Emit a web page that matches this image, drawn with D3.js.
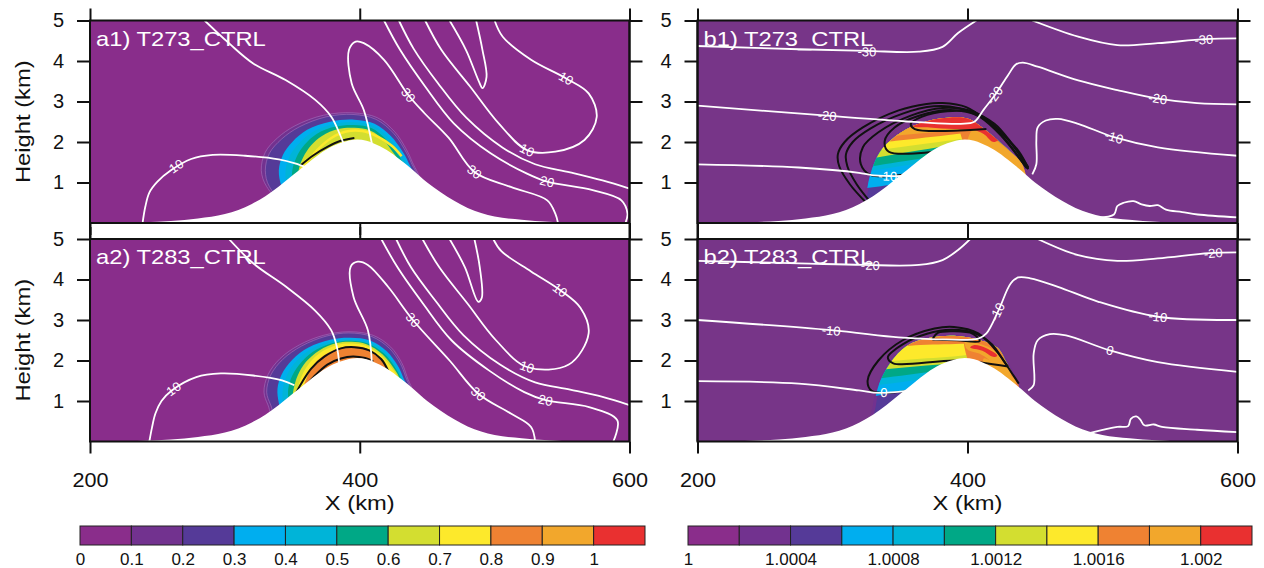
<!DOCTYPE html>
<html>
<head>
<meta charset="utf-8">
<script src="https://cdn.jsdelivr.net/npm/d3@7"></script>
<style>
body { margin: 0; background: #fff; }
svg { font-family: "Liberation Sans", Arial, Helvetica, sans-serif; }
</style>
</head>
<body>
<svg id="fig" width="1264" height="568"></svg>
<script>
// ---- data (X in km, height in km) ----
const xTicks = [200, 400, 600];
const yTicks = [1, 2, 3, 4, 5];
const titles = ["a1) T273_CTRL", "a2) T283_CTRL", "b1) T273_CTRL", "b2) T283_CTRL"];

const palette = ["#8a2d8b", "#72328f", "#553a98", "#00aeef", "#00b4d8", "#00a886",
                 "#d3de30", "#fde92b", "#ef8232", "#f2a72c", "#e93030"];
const levelsA = [0, 0.1, 0.2, 0.3, 0.4, 0.5, 0.6, 0.7, 0.8, 0.9, 1, 1.1];
const cbTicksA = [0, 0.1, 0.2, 0.3, 0.4, 0.5, 0.6, 0.7, 0.8, 0.9, 1];
const levelsB = [1, 1.0002, 1.0004, 1.0006, 1.0008, 1.001, 1.0012, 1.0014, 1.0016, 1.0018, 1.002, 1.0022];
const cbTicksB = [1, 1.0004, 1.0008, 1.0012, 1.0016, 1.002];
const cbLabelsB = ["1", "1.0004", "1.0008", "1.0012", "1.0016", "1.002"];

const mountainX = [220, 240, 260, 280, 300, 310, 320, 330, 340, 350, 360, 370, 380, 390, 398, 405, 410,
                   420, 430, 440, 450, 460, 470, 480, 490, 500, 520, 540, 560];
const mountainZ = [0, 0.02, 0.05, 0.11, 0.22, 0.32, 0.47, 0.66, 0.9, 1.17, 1.44, 1.7, 1.9, 2.02, 2.06, 2.03, 1.97,
                   1.8, 1.56, 1.29, 1.0, 0.76, 0.55, 0.37, 0.25, 0.16, 0.08, 0.03, 0];

// a panels: nested shaded rings [colour index, outline]
const shadeA1 = [
  [1, [[344,0.5],[331,0.9],[327,1.3],[330,1.75],[339,2.1],[352,2.4],[373,2.66],[395,2.72],[413,2.6],[426,2.25],[434,1.85],[439,1.5],[444,1.0],[400,0.8]]],
  [2, [[346,0.5],[333,0.9],[330,1.3],[333,1.72],[342,2.07],[355,2.37],[375,2.62],[395,2.68],[412,2.56],[425,2.22],[433,1.83],[438,1.5],[443,1.0],[400,0.8]]],
  [3, [[348,0.5],[342,0.9],[340,1.3],[343,1.68],[350,2.0],[361,2.3],[378,2.5],[396,2.55],[411,2.45],[423,2.15],[431,1.8],[436,1.5],[441,1.0],[400,0.8]]],
  [4, [[350,0.5],[346,0.9],[345,1.3],[348,1.65],[355,1.97],[365,2.25],[380,2.44],[396,2.49],[410,2.4],[421,2.12],[429,1.78],[434,1.5],[440,1.0],[400,0.8]]],
  [5, [[352,0.5],[350,0.9],[350,1.3],[353,1.62],[359,1.93],[368,2.2],[382,2.38],[396,2.42],[409,2.34],[419,2.08],[427,1.75],[432,1.5],[439,1.0],[400,0.8]]],
  [6, [[354,0.5],[354,1.0],[355,1.35],[358,1.62],[364,1.92],[372,2.15],[384,2.32],[396,2.35],[408,2.28],[418,2.04],[425,1.73],[430,1.5],[438,1.0],[400,0.8]]]
];
const yellowA1 = [[356,1.3],[361,1.5],[369,1.82],[379,2.1],[390,2.26],[402,2.27],[414,2.12],[424,1.9],[431,1.65]];
const blackA1 = [[[356,1.42],[366,1.68],[376,1.88],[386,2.03],[396,2.1]]];

const shadeA2 = [
  [1, [[338,0.5],[332,0.9],[329,1.22],[332,1.65],[341,2.05],[355,2.38],[373,2.62],[392,2.71],[410,2.62],[423,2.33],[431,1.95],[435,1.6],[440,1.0],[400,0.8]]],
  [2, [[340,0.5],[334,0.9],[331,1.22],[334,1.64],[343,2.03],[357,2.36],[375,2.6],[392,2.68],[409,2.59],[422,2.3],[430,1.93],[434,1.6],[439,1.0],[400,0.8]]],
  [3, [[344,0.5],[340,0.95],[339,1.3],[342,1.65],[350,2.02],[362,2.32],[378,2.51],[393,2.56],[408,2.49],[420,2.23],[428,1.88],[432,1.6],[438,1.0],[400,0.8]]],
  [4, [[346,0.5],[343,0.95],[343,1.3],[346,1.64],[353,1.99],[365,2.3],[380,2.48],[393,2.52],[407,2.45],[419,2.2],[427,1.86],[431,1.6],[437,1.0],[400,0.8]]],
  [5, [[348,0.5],[347,1.0],[347,1.3],[350,1.63],[357,1.97],[368,2.27],[382,2.45],[393,2.49],[406,2.42],[418,2.17],[426,1.84],[430,1.6],[436,1.0],[400,0.8]]],
  [6, [[350,0.5],[350,1.0],[351,1.3],[354,1.63],[360,1.96],[370,2.25],[383,2.43],[394,2.46],[405,2.4],[417,2.15],[425,1.82],[429,1.6],[435,1.0],[400,0.8]]],
  [7, [[352,0.5],[353,1.0],[354,1.3],[357,1.62],[363,1.95],[372,2.22],[385,2.4],[394,2.42],[404,2.37],[416,2.12],[424,1.8],[428,1.6],[434,1.0],[400,0.8]]],
  [8, [[355,0.5],[357,1.0],[358,1.3],[361,1.6],[366,1.9],[375,2.16],[387,2.33],[395,2.35],[404,2.31],[414,2.07],[421,1.78],[426,1.6],[433,1.0],[400,0.8]]]
];
const blackA2 = [
  [[352,1.15],[357,1.45],[364,1.8],[374,2.1],[386,2.3],[396,2.33],[407,2.25],[416,2.03],[421,1.75]],
  [[358,1.3],[366,1.6],[376,1.9],[386,2.05],[395,2.1],[404,2.06],[410,1.98]]
];

// b panels: shaded dome, stripes (colour above a boundary) and patches
const domeB1 = [[325,0.4],[326,0.9],[329,1.3],[335,1.75],[344,2.07],[358,2.37],[380,2.58],[400,2.58],[413,2.3],[425,1.97],[433,1.73],[441,1.42],[442,0.8],[380,0.5]];
const stripeB1 = [
  [3, [[300,0.75],[330,0.88],[370,1.08],[460,1.5]]],
  [4, [[300,1.15],[330,1.3],[370,1.5],[460,1.95]]],
  [5, [[300,1.25],[333,1.42],[378,1.66],[460,2.1]]],
  [6, [[300,1.45],[333,1.62],[378,1.87],[460,2.3]]],
  [7, [[300,1.65],[340,1.83],[385,2.03],[460,2.4]]],
  [8, [[300,1.85],[347,2.03],[392,2.2],[460,2.5]]],
  [9, [[300,2.0],[352,2.17],[400,2.32],[460,2.6]]]
];
const patchB1 = [
  [8, [[396,2.9],[460,2.9],[460,0.8],[430,0.8],[398,1.9]]],
  [9, [[404,2.3],[414,2.17],[424,1.97],[433,1.72],[442,1.45],[440,0.8],[400,1.5]]],
  [10, [[358,2.9],[358,2.42],[372,2.36],[390,2.32],[404,2.3],[412,2.2],[420,2.0],[440,2.9]]]
];
const blackB1 = [
  [[325,0.5],[313,0.95],[305,1.4],[304,1.7],[309,2.0],[322.5,2.36],[349,2.78],[369.7,2.94],[381.5,2.96],[399,2.86],[414,2.53],[428.8,2.03],[443.5,1.37]],
  [[328,0.52],[318,0.95],[311,1.4],[310,1.7],[315,2.0],[328,2.33],[352,2.7],[375,2.88],[393,2.84],[410,2.6],[425,2.15],[444,1.35]],
  [[352,1.19],[328,1.19],[321,1.45],[322.5,1.87],[334,2.24],[358,2.65],[381.5,2.84],[405,2.74],[420,2.4],[434.7,1.87],[445,1.33]],
  [[375.6,1.76],[341.7,1.76],[338.7,2.03],[346,2.36],[364,2.65],[387.5,2.79],[408,2.65],[423,2.28],[437.7,1.78],[445,1.35]],
  [[414,2.32],[361,2.32],[358,2.45],[366,2.62],[385,2.76],[405,2.72],[420,2.45],[432,2.0],[445,1.38]]
];

const domeB2 = [[330,0.5],[331,0.88],[334,1.37],[343,1.95],[355,2.36],[372,2.56],[390,2.61],[407,2.52],[422,2.32],[429,1.95],[434,1.62],[438,1.3],[420,0.8],[380,0.6]];
const stripeB2 = [
  [3, [[300,0.95],[333,1.13],[370,1.35],[460,1.8]]],
  [4, [[300,1.25],[335,1.4],[370,1.55],[460,1.95]]],
  [5, [[300,1.4],[340,1.58],[385,1.78],[460,2.1]]],
  [6, [[300,1.62],[345,1.8],[395,1.95],[460,2.2]]],
  [7, [[300,1.85],[355,2.02],[395,2.12],[460,2.4]]],
  [8, [[300,2.2],[365,2.38],[400,2.42],[460,2.6]]]
];
const patchB2 = [
  [8, [[400,2.9],[460,2.9],[460,0.8],[430,0.8],[401,1.95]]],
  [9, [[398,2.47],[410,2.4],[420,2.25],[428,2.0],[433,1.7],[428,1.6],[420,1.9],[410,2.15],[400,2.27]]],
  [10, [[405,2.38],[414,2.3],[422,2.12],[419,2.09],[411,2.24],[402,2.32]]],
  [9, [[412,2.05],[422,1.9],[430,1.7],[436,1.45],[430,1.3],[412,1.9]]]
];
const blackB2 = [
  [[355,1.25],[340,1.2],[329,1.25],[326,1.5],[334,2.0],[352,2.5],[375.6,2.79],[390,2.83],[408,2.67],[423,2.17],[433,1.68],[438,1.43]],
  [[430,1.85],[393,2.0],[345,1.93],[341,2.08],[352,2.4],[370,2.66],[388,2.76],[405,2.68],[418,2.4],[427,1.98],[430,1.85]],
  [[374,2.52],[392,2.5],[409,2.48],[404,2.66],[390,2.72],[378,2.68],[374,2.52]]
];

// white contour lines with their labels [X, z, text]
const whiteA1 = [
  { pts: [[239,0],[241,0.4],[244,0.75],[250,1.02],[260,1.3],[275,1.58],[291,1.68],[315,1.66],[340,1.57],[352,1.47],[362,1.35]], labels: [[264,1.4,"10"]] },
  { pts: [[285,5],[303,4.44],[321,3.94],[345,3.53],[367,3.04],[379,2.62],[385,2.21],[388,1.96]], labels: [] },
  { pts: [[409,1.96],[403,2.79],[394,3.45],[392,4.27],[397,4.48],[403,4.44],[418,4.03],[436,3.16],[448,2.71],[466,2.1],[485,1.26],[512,0.89],[539,0.56],[545,0.23],[547,0]], labels: [[436,3.16,"30"],[485,1.26,"30"]] },
  { pts: [[418,5],[430,4.27],[448.5,3.37],[469.7,2.46],[497,1.72],[524,1.22],[539,1.02],[572.7,0.81],[594,0.56],[598.5,0.23],[597,0]], labels: [[539,1.02,"20"]] },
  { pts: [[429,5],[440,4.3],[458,3.45],[479,2.6],[506,1.86],[530,1.45],[556,1.25],[580,1.05],[600,0.85]], labels: [] },
  { pts: [[448.5,5],[460.6,4.27],[481.8,3.37],[503,2.46],[524,1.8],[545,1.76],[566.6,2.05],[575.7,2.62],[569.7,3.2],[553,3.57],[527,4.03],[506,4.6],[500,5]], labels: [[524,1.8,"10"],[553,3.57,"10"]] },
  { pts: [[466.6,5],[478.8,4.27],[487.9,3.53],[491,3.33],[494,3.61],[491,4.27],[486.3,5]], labels: [] }
];
const whiteA2 = [
  { pts: [[244,0],[246,0.35],[248.5,0.69],[253,1.0],[260.6,1.26],[278.8,1.59],[297,1.68],[321,1.63],[342.4,1.51],[351.5,1.39]], labels: [[262,1.3,"10"]] },
  { pts: [[303,5],[321,4.4],[345.4,3.82],[366.7,3.24],[378.8,2.75],[383,2.34],[384.8,1.92]], labels: [] },
  { pts: [[409,1.92],[406,2.75],[395.4,3.57],[393.3,4.32],[398.5,4.44],[406,4.36],[421,3.82],[439.4,3.0],[466.6,2.0],[487.9,1.18],[512,0.69],[527,0.36],[530,0]], labels: [[439.4,3.0,"30"],[487.9,1.18,"30"]] },
  { pts: [[416,5],[428,4.3],[447,3.4],[468,2.5],[496,1.75],[522,1.22],[537.8,1.02],[570,0.85],[591,0.52],[588,0]], labels: [[537.8,1.02,"20"]] },
  { pts: [[427,5],[438,4.3],[456,3.48],[477,2.62],[504,1.9],[530,1.46],[556,1.28],[580,1.1],[600,0.9]], labels: [] },
  { pts: [[446.5,5],[459,4.3],[480,3.4],[501,2.5],[524,1.84],[555,1.9],[569.7,2.67],[563.6,3.3],[548.5,3.74],[527,4.2],[505,4.7],[499,5]], labels: [[524,1.84,"10"],[548.5,3.74,"10"]] },
  { pts: [[466.6,5],[478,4.3],[487.9,3.45],[490.5,3.55],[489,4.3],[485,5]], labels: [] }
];
const whiteB1 = [
  { pts: [[200,4.37],[275,4.29],[325,4.25],[364,4.23],[381.5,4.35],[393,4.69],[406.6,5]], labels: [[325.5,4.23,"-30"]] },
  { pts: [[448,5],[482,4.6],[511,4.39],[541,4.44],[576,4.54],[600,4.56]], labels: [[575,4.53,"-30"]] },
  { pts: [[200,2.9],[296,2.65],[364,2.49],[395,2.45],[405,2.5],[412,2.8],[421,3.19],[430,3.65],[436,3.92],[441,3.96],[452,3.86],[482,3.52],[511,3.28],[541,3.07],[570,2.96],[600,2.93]], labels: [[296,2.65,"-20"],[420,3.15,"-20"],[541,3.07,"-20"]] },
  { pts: [[200,1.45],[275,1.37],[319.6,1.24],[328,1.19],[341.7,1.16],[352,1.16]], labels: [[341,1.16,"-10"]] },
  { pts: [[448,1.2],[451,1.45],[451,2.03],[452,2.36],[458,2.53],[467,2.57],[482,2.45],[508.5,2.12],[541,1.87],[600,1.66]], labels: [[508.5,2.12,"-10"]] },
  { pts: [[496.7,0.13],[508.5,0.21],[511,0.42],[515.6,0.5],[523,0.54],[529,0.46],[535,0.42],[541,0.44],[547,0.33],[559,0.27],[570.5,0.21],[600,0.14]], labels: [] }
];
const whiteB2 = [
  { pts: [[200,4.46],[275,4.4],[322.5,4.36],[364,4.36],[381.5,4.48],[393,4.73],[402,5]], labels: [[328,4.35,"-20"]] },
  { pts: [[452,5],[482,4.6],[511,4.46],[541,4.52],[579,4.65],[600,4.67]], labels: [[582,4.65,"-20"]] },
  { pts: [[200,3.0],[299,2.75],[349,2.57],[373,2.53],[408,2.54],[414,2.67],[423,3.24],[432,3.9],[437.6,4.05],[446.5,4.03],[467,3.82],[497,3.45],[541,3.08],[600,3.0]], labels: [[299,2.74,"-10"],[422,3.2,"-10"],[541,3.08,"-10"]] },
  { pts: [[200,1.49],[275,1.43],[319.6,1.26],[334,1.2],[355,1.25]], labels: [[338,1.21,"0"]] },
  { pts: [[445,1.26],[449,1.39],[449,2.17],[452,2.5],[461,2.65],[473,2.62],[505.5,2.25],[541,1.96],[600,1.72]], labels: [[505.5,2.25,"0"]] },
  { pts: [[491,0.21],[511,0.36],[519,0.38],[521,0.56],[525,0.62],[528,0.54],[531,0.4],[538,0.42],[544,0.36],[570,0.29],[600,0.23]], labels: [] }
];

// ---- layout ----
const colLeft = [90, 697.5], colRight = [629.5, 1237.5];
const rowTop = [20.5, 239], rowBottom = [223, 441.5];
const bgA = "#892d8b", bgB = "#773588";

const panels = [
  { id: "a1", col: 0, row: 0, bg: bgA, shades: shadeA1, yellow: yellowA1, blacks: blackA1, whites: whiteA1 },
  { id: "a2", col: 0, row: 1, bg: bgA, shades: shadeA2, blacks: blackA2, whites: whiteA2 },
  { id: "b1", col: 1, row: 0, bg: bgB, dome: domeB1, stripes: stripeB1, patches: patchB1, blacks: blackB1, whites: whiteB1 },
  { id: "b2", col: 1, row: 1, bg: bgB, dome: domeB2, stripes: stripeB2, patches: patchB2, blacks: blackB2, whites: whiteB2 }
];
panels.forEach((p, i) => p.title = titles[i]);

const svg = d3.select("#fig");
const defs = svg.append("defs");
const mountain = d3.zip(mountainX, mountainZ);

function widen(sel, f) {
  sel.each(function () {
    const w = this.getComputedTextLength();
    d3.select(this).attr("textLength", w * f).attr("lengthAdjust", "spacingAndGlyphs");
  });
}

function labelAngle(pts, lx, lz, x, y) {
  let best = 0, bd = Infinity;
  pts.forEach((q, i) => {
    const d = (x(q[0]) - x(lx)) ** 2 + (y(q[1]) - y(lz)) ** 2;
    if (d < bd) { bd = d; best = i; }
  });
  const a = pts[Math.max(0, best - 1)], b = pts[Math.min(pts.length - 1, best + 1)];
  let ang = Math.atan2(y(b[1]) - y(a[1]), x(b[0]) - x(a[0])) * 180 / Math.PI;
  if (ang > 90) ang -= 180;
  if (ang < -90) ang += 180;
  return ang;
}

function drawPanel(p) {
  const left = colLeft[p.col], right = colRight[p.col];
  const top = rowTop[p.row], bottom = rowBottom[p.row];
  const x = d3.scaleLinear().domain([200, 600]).range([left, right]);
  const y = d3.scaleLinear().domain([0, 5]).range([bottom, top]);
  const g = svg.append("g");

  defs.append("clipPath").attr("id", "clip-" + p.id)
    .append("rect").attr("x", left).attr("y", top).attr("width", right - left).attr("height", bottom - top);

  const inner = g.append("g").attr("clip-path", `url(#clip-${p.id})`);
  inner.append("rect").attr("x", left).attr("y", top).attr("width", right - left).attr("height", bottom - top)
    .attr("fill", p.bg);

  const closed = d3.line().x(d => x(d[0])).y(d => y(d[1])).curve(d3.curveCatmullRomClosed);
  const open = d3.line().x(d => x(d[0])).y(d => y(d[1])).curve(d3.curveCatmullRom);

  if (p.shades) {
    inner.selectAll("path.shade").data(p.shades).enter().append("path")
      .attr("class", "shade")
      .attr("d", d => closed(d[1]))
      .attr("fill", d => palette[d[0]])
      .attr("stroke", d => d[0] < 3 ? "#a877c2" : "none")
      .attr("stroke-width", 0.7).attr("stroke-opacity", 0.8);
  }
  if (p.yellow) {
    inner.append("path").attr("d", open(p.yellow)).attr("fill", "none")
      .attr("stroke", palette[7]).attr("stroke-width", 2.5);
  }
  if (p.dome) {
    defs.append("clipPath").attr("id", "dome-" + p.id).append("path").attr("d", closed(p.dome));
    inner.append("path").attr("d", closed(p.dome)).attr("fill", palette[2])
      .attr("stroke", palette[1]).attr("stroke-width", 3);
    const dg = inner.append("g").attr("clip-path", `url(#dome-${p.id})`);
    dg.selectAll("path.stripe").data(p.stripes).enter().append("path")
      .attr("class", "stripe")
      .attr("d", d => {
        const b = d[1], last = b[b.length - 1], first = b[0];
        return open(b) + `L${x(last[0])},${y(3.2)}L${x(first[0])},${y(3.2)}Z`;
      })
      .attr("fill", d => palette[d[0]]);
    dg.selectAll("path.patch").data(p.patches).enter().append("path")
      .attr("class", "patch")
      .attr("d", d => closed(d[1]))
      .attr("fill", d => palette[d[0]]);
  }

  // black contours
  inner.selectAll("path.black").data(p.blacks).enter().append("path")
    .attr("class", "black")
    .attr("d", d => open(d))
    .attr("fill", "none").attr("stroke", "#111").attr("stroke-width", 2);

  // white contours
  inner.selectAll("path.white").data(p.whites).enter().append("path")
    .attr("class", "white")
    .attr("d", d => open(d.pts))
    .attr("fill", "none").attr("stroke", "#fff").attr("stroke-width", 1.8);

  p.whites.forEach(w => {
    w.labels.forEach(l => {
      const ang = labelAngle(w.pts, l[0], l[1], x, y);
      inner.append("text")
        .attr("transform", `translate(${x(l[0])},${y(l[1])}) rotate(${ang})`)
        .attr("text-anchor", "middle").attr("dy", "0.35em")
        .attr("font-size", 13).attr("fill", "#fff")
        .text(l[2]);
    });
  });

  // terrain
  inner.append("path")
    .attr("d", d3.area().x(d => x(d[0])).y0(y(0) + 2).y1(d => y(d[1])).curve(d3.curveMonotoneX)(mountain))
    .attr("fill", "#fff");

  // title
  g.append("text").attr("x", left + 6).attr("y", top + 25)
    .attr("font-size", 21).attr("fill", "#fff").text(p.title)
    .call(widen, 1.13);

  // axes
  const axL = g.append("g").attr("transform", `translate(${left},0)`)
    .call(d3.axisLeft(y).tickValues(yTicks).tickSize(13).tickPadding(13).tickFormat(d3.format("d")));
  const axR = g.append("g").attr("transform", `translate(${right},0)`)
    .call(d3.axisRight(y).tickValues(yTicks).tickSize(13).tickFormat(""));
  const axT = g.append("g").attr("transform", `translate(0,${top})`)
    .call(d3.axisTop(x).tickValues(xTicks).tickSize(12).tickFormat(""));
  const axB = g.append("g").attr("transform", `translate(0,${bottom})`)
    .call(d3.axisBottom(x).tickValues(xTicks).tickSize(12).tickPadding(19)
      .tickFormat(p.row === 1 ? d3.format("d") : ""));
  [axL, axR, axT, axB].forEach(a => {
    a.select(".domain").remove();
    a.selectAll(".tick line").attr("stroke", "#111").attr("stroke-width", 2);
    a.selectAll(".tick text").attr("font-size", 20).attr("fill", "#111")
      .attr("font-family", "Liberation Sans, Arial, sans-serif");
  });
  axB.selectAll(".tick text").call(widen, 1.08);

  g.append("rect").attr("x", left).attr("y", top).attr("width", right - left).attr("height", bottom - top)
    .attr("fill", "none").attr("stroke", "#111").attr("stroke-width", 2);
}

panels.forEach(drawPanel);

// continuous side lines between the stacked panels
[0, 1].forEach(c => {
  [colLeft[c], colRight[c]].forEach(xx => {
    svg.append("line").attr("x1", xx).attr("x2", xx).attr("y1", rowTop[0]).attr("y2", rowBottom[1])
      .attr("stroke", "#111").attr("stroke-width", 2);
  });
});

// axis titles
svg.append("text").attr("transform", `translate(30,${(rowTop[0] + rowBottom[0]) / 2}) rotate(-90)`)
  .attr("text-anchor", "middle").attr("font-size", 21).attr("fill", "#111").text("Height (km)").call(widen, 1.13);
svg.append("text").attr("transform", `translate(30,${(rowTop[1] + rowBottom[1]) / 2}) rotate(-90)`)
  .attr("text-anchor", "middle").attr("font-size", 21).attr("fill", "#111").text("Height (km)").call(widen, 1.13);
[0, 1].forEach(c => {
  svg.append("text").attr("x", (colLeft[c] + colRight[c]) / 2).attr("y", 510)
    .attr("text-anchor", "middle").attr("font-size", 21).attr("fill", "#111").text("X (km)").call(widen, 1.13);
});

// colour bars
function colorbar(levels, x0, x1, ticks, fmt) {
  const s = d3.scaleLinear().domain([levels[0], levels[levels.length - 1]]).range([x0, x1]);
  const cb = svg.append("g");
  cb.selectAll("rect").data(d3.pairs(levels)).enter().append("rect")
    .attr("x", d => s(d[0])).attr("y", 526)
    .attr("width", d => s(d[1]) - s(d[0])).attr("height", 19)
    .attr("fill", (d, i) => palette[i]).attr("stroke", "#222").attr("stroke-width", 1);
  const ax = svg.append("g").attr("transform", "translate(0,545)")
    .call(d3.axisBottom(s).tickValues(ticks).tickSize(0).tickPadding(8).tickFormat(fmt));
  ax.select(".domain").remove();
  ax.selectAll(".tick text").attr("font-size", 17).attr("fill", "#111")
    .attr("font-family", "Liberation Sans, Arial, sans-serif");
}
colorbar(levelsA, 80, 645, cbTicksA, d => String(d));
colorbar(levelsB, 688, 1252, cbTicksB, (d, i) => cbLabelsB[i]);
</script>
</body>
</html>
